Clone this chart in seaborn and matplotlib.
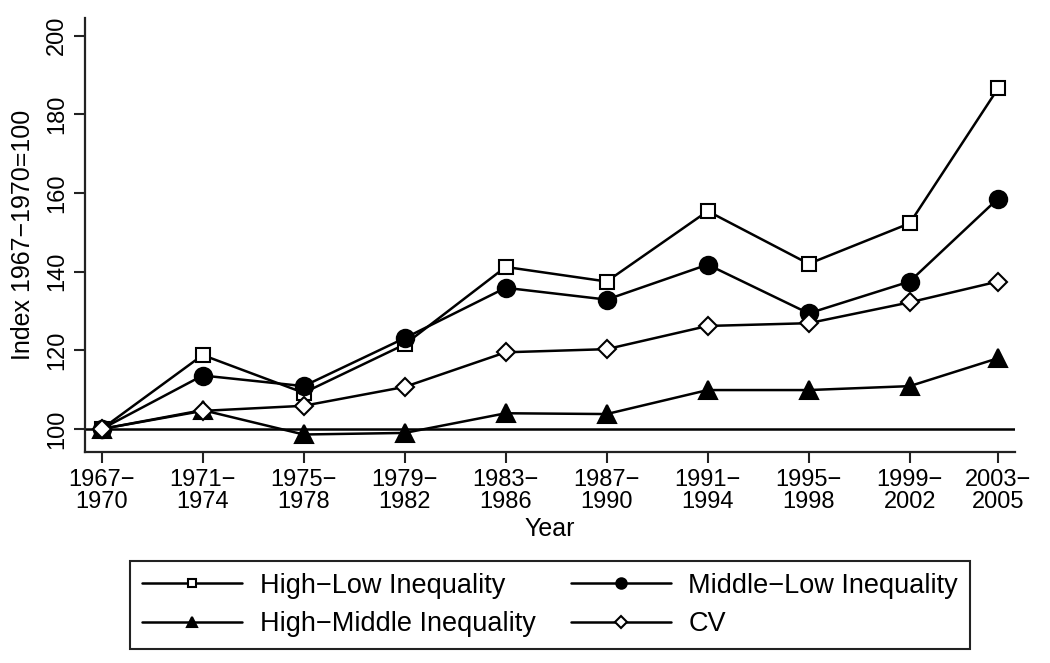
import numpy as np
import pandas as pd
import matplotlib
matplotlib.use("Agg")
import matplotlib.pyplot as plt
import seaborn as sns

# ---- data ----
periods = ["1967\u2212\n1970", "1971\u2212\n1974", "1975\u2212\n1978", "1979\u2212\n1982",
           "1983\u2212\n1986", "1987\u2212\n1990", "1991\u2212\n1994", "1995\u2212\n1998",
           "1999\u2212\n2002", "2003\u2212\n2005"]
period_mid = [1968.5, 1972.5, 1976.5, 1980.5, 1984.5, 1988.5, 1992.5, 1996.5, 2000.5, 2004.0]
high_low = [100, 118.8, 109.2, 121.5, 141.2, 137.5, 155.4, 142.0, 152.3, 186.6]
middle_low = [100, 113.6, 110.9, 123.1, 135.9, 132.9, 141.8, 129.4, 137.5, 158.6]
high_middle = [100, 104.8, 98.6, 99.0, 104.0, 103.8, 109.9, 109.9, 110.9, 118.0]
cv = [100, 104.6, 105.9, 110.7, 119.5, 120.3, 126.2, 126.9, 132.2, 137.5]
y_ticks = [100, 120, 140, 160, 180, 200]

names = ["High\u2212Low Inequality", "Middle\u2212Low Inequality",
         "High\u2212Middle Inequality", "CV"]
series = [high_low, middle_low, high_middle, cv]

df = pd.concat([pd.DataFrame({"x": period_mid, "value": v, "series": n})
                for n, v in zip(names, series)], ignore_index=True)

sns.set_style("ticks")
plt.rcParams["font.family"] = ["Liberation Sans", "DejaVu Sans"]
plt.rcParams["text.color"] = "black"
plt.rcParams["axes.labelcolor"] = "black"
plt.rcParams["xtick.color"] = "black"
plt.rcParams["ytick.color"] = "black"

fig = plt.figure(figsize=(10.5, 6.63), dpi=100)
ax = fig.add_axes([85 / 1050, 1 - 452 / 663, (1015 - 85) / 1050, (452 - 18) / 663])

markers = {names[0]: "s", names[1]: "o", names[2]: "^", names[3]: "D"}
sizes_ms = {names[0]: 9.5, names[1]: 12.5, names[2]: 12.5, names[3]: 9.5}
fills = {names[0]: "white", names[1]: "black", names[2]: "black", names[3]: "white"}

ax.axhline(100, color="black", lw=1.8, zorder=1)

for n in names:
    sub = df[df["series"] == n]
    sns.lineplot(data=sub, x="x", y="value", ax=ax, color="black", lw=1.8,
                 marker=markers[n], markersize=sizes_ms[n], markerfacecolor=fills[n],
                 markeredgecolor="black", markeredgewidth=1.5, label=n, zorder=3)

ax.set_xlim(1967.84, 2004.67)
ax.set_ylim(94.15, 204.5)
ax.set_xticks(period_mid)
ax.set_xticklabels(periods, fontsize=17, linespacing=1.0)
ax.set_yticks(y_ticks)
ax.set_yticklabels([str(t) for t in y_ticks], fontsize=17, rotation=90, va="center")
ax.tick_params(axis="x", length=8, width=1.5, color="#222222", pad=4)
ax.tick_params(axis="y", length=8, width=1.5, color="#222222", pad=4)
for s in ["top", "right"]:
    ax.spines[s].set_visible(False)
for s in ["left", "bottom"]:
    ax.spines[s].set_color("#222222")
    ax.spines[s].set_linewidth(1.6)

ax.set_xlabel("Year", fontsize=18, labelpad=3)
ax.set_ylabel("Index 1967\u22121970=100", fontsize=18, labelpad=8)

ax.get_legend().remove()
handles, labels = ax.get_legend_handles_labels()
order = [0, 2, 1, 3]
leg = fig.legend([handles[i] for i in order], [labels[i] for i in order],
                 loc="center", bbox_to_anchor=(550 / 1050, 1 - 605 / 663),
                 ncol=2, fontsize=19.5, frameon=True, fancybox=False,
                 edgecolor="#222222", framealpha=1, handlelength=3.7,
                 handletextpad=0.65, columnspacing=1.3, borderpad=0.45,
                 labelspacing=0.45, markerscale=0.6)
leg.get_frame().set_linewidth(1.5)

fig.savefig("out.png", dpi=100)
